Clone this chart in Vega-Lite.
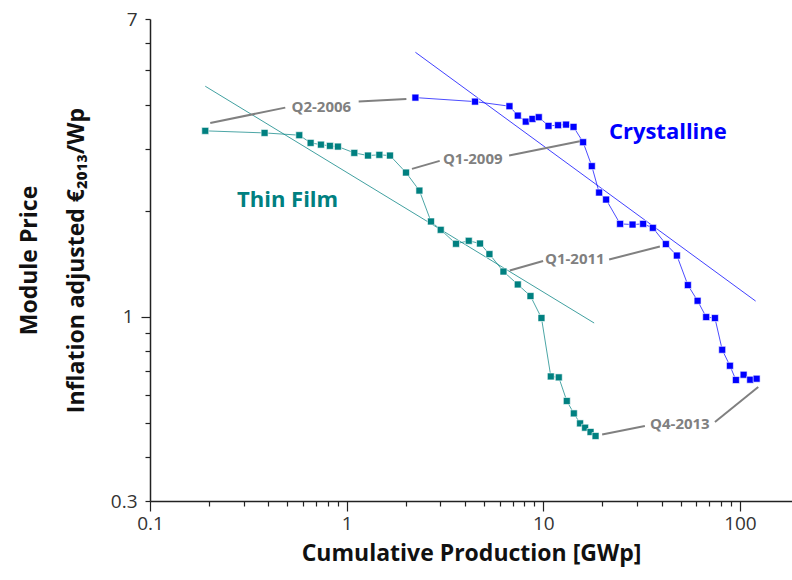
{
  "$schema": "https://vega.github.io/schema/vega-lite/v6.json",
  "width": 642,
  "height": 482,
  "autosize": {"type": "none"},
  "padding": {"left": 150, "top": 19, "right": 0, "bottom": 79},
  "background": "white",
  "config": {
    "font": "Open Sans",
    "view": {"stroke": null},
    "axis": {"grid": false, "domainColor": "#222", "tickColor": "#222", "domainWidth": 1.5, "tickWidth": 1.2}
  },
  "datasets": {
    "points": [
      {"tech": "Thin Film", "x": 0.191, "y": 3.37},
      {"tech": "Thin Film", "x": 0.3825, "y": 3.325},
      {"tech": "Thin Film", "x": 0.5743, "y": 3.276},
      {"tech": "Thin Film", "x": 0.6558, "y": 3.115},
      {"tech": "Thin Film", "x": 0.7401, "y": 3.08},
      {"tech": "Thin Film", "x": 0.8222, "y": 3.055},
      {"tech": "Thin Film", "x": 0.903, "y": 3.041},
      {"tech": "Thin Film", "x": 1.094, "y": 2.918},
      {"tech": "Thin Film", "x": 1.284, "y": 2.868},
      {"tech": "Thin Film", "x": 1.467, "y": 2.881},
      {"tech": "Thin Film", "x": 1.661, "y": 2.868},
      {"tech": "Thin Film", "x": 2.004, "y": 2.566},
      {"tech": "Thin Film", "x": 2.344, "y": 2.281},
      {"tech": "Thin Film", "x": 2.685, "y": 1.864},
      {"tech": "Thin Film", "x": 3.009, "y": 1.765},
      {"tech": "Thin Film", "x": 3.599, "y": 1.611},
      {"tech": "Thin Film", "x": 4.178, "y": 1.643},
      {"tech": "Thin Film", "x": 4.768, "y": 1.614},
      {"tech": "Thin Film", "x": 5.323, "y": 1.506},
      {"tech": "Thin Film", "x": 6.273, "y": 1.344},
      {"tech": "Thin Film", "x": 7.418, "y": 1.235},
      {"tech": "Thin Film", "x": 8.608, "y": 1.145},
      {"tech": "Thin Film", "x": 9.79, "y": 0.992},
      {"tech": "Thin Film", "x": 10.92, "y": 0.677},
      {"tech": "Thin Film", "x": 11.99, "y": 0.673},
      {"tech": "Thin Film", "x": 13.17, "y": 0.5767},
      {"tech": "Thin Film", "x": 14.3, "y": 0.5318},
      {"tech": "Thin Film", "x": 15.39, "y": 0.4982},
      {"tech": "Thin Film", "x": 16.32, "y": 0.4844},
      {"tech": "Thin Film", "x": 17.39, "y": 0.471},
      {"tech": "Thin Film", "x": 18.44, "y": 0.4588},
      {"tech": "Crystalline", "x": 2.237, "y": 4.188},
      {"tech": "Crystalline", "x": 4.498, "y": 4.08},
      {"tech": "Crystalline", "x": 6.73, "y": 3.959},
      {"tech": "Crystalline", "x": 7.418, "y": 3.724},
      {"tech": "Crystalline", "x": 8.146, "y": 3.58},
      {"tech": "Crystalline", "x": 8.81, "y": 3.643},
      {"tech": "Crystalline", "x": 9.486, "y": 3.684},
      {"tech": "Crystalline", "x": 10.63, "y": 3.481},
      {"tech": "Crystalline", "x": 11.89, "y": 3.497},
      {"tech": "Crystalline", "x": 13.06, "y": 3.511},
      {"tech": "Crystalline", "x": 14.25, "y": 3.458},
      {"tech": "Crystalline", "x": 15.94, "y": 3.129},
      {"tech": "Crystalline", "x": 17.65, "y": 2.676},
      {"tech": "Crystalline", "x": 19.23, "y": 2.252},
      {"tech": "Crystalline", "x": 20.87, "y": 2.151},
      {"tech": "Crystalline", "x": 24.59, "y": 1.835},
      {"tech": "Crystalline", "x": 28.44, "y": 1.827},
      {"tech": "Crystalline", "x": 32.2, "y": 1.835},
      {"tech": "Crystalline", "x": 36.08, "y": 1.788},
      {"tech": "Crystalline", "x": 42.02, "y": 1.608},
      {"tech": "Crystalline", "x": 47.79, "y": 1.492},
      {"tech": "Crystalline", "x": 54.37, "y": 1.23},
      {"tech": "Crystalline", "x": 60.91, "y": 1.11},
      {"tech": "Crystalline", "x": 67.38, "y": 0.998},
      {"tech": "Crystalline", "x": 74.63, "y": 0.9915},
      {"tech": "Crystalline", "x": 81.27, "y": 0.806},
      {"tech": "Crystalline", "x": 88.95, "y": 0.726},
      {"tech": "Crystalline", "x": 95.41, "y": 0.6614},
      {"tech": "Crystalline", "x": 104.4, "y": 0.6846},
      {"tech": "Crystalline", "x": 112.8, "y": 0.6627},
      {"tech": "Crystalline", "x": 121.6, "y": 0.6671}
    ],
    "fits": [
      {"tech": "Thin Film", "x": 0.191, "y": 4.511, "x2": 18.14, "y2": 0.96},
      {"tech": "Crystalline", "x": 2.237, "y": 5.632, "x2": 120.2, "y2": 1.108}
    ],
    "leaders": [
      {"x": 0.2025, "y": 3.548, "x2": 0.4875, "y2": 3.923},
      {"x": 1.151, "y": 4.08, "x2": 2.013, "y2": 4.153},
      {"x": 2.149, "y": 2.629, "x2": 2.973, "y2": 2.77},
      {"x": 6.7, "y": 2.868, "x2": 15.34, "y2": 3.15},
      {"x": 6.753, "y": 1.353, "x2": 9.98, "y2": 1.439},
      {"x": 21.62, "y": 1.454, "x2": 39.16, "y2": 1.583},
      {"x": 19.92, "y": 0.4636, "x2": 32.85, "y2": 0.4898},
      {"x": 74.63, "y": 0.5028, "x2": 123.9, "y2": 0.6319}
    ],
    "notes": [
      {"label": "Q2-2006", "x": 0.7434, "y": 3.948},
      {"label": "Q1-2009", "x": 4.378, "y": 2.806},
      {"label": "Q1-2011", "x": 14.47, "y": 1.458},
      {"label": "Q4-2013", "x": 49.5, "y": 0.4973}
    ],
    "serieslabels": [
      {"tech": "Thin Film", "x": 0.5008, "y": 2.147},
      {"tech": "Crystalline", "x": 43.0, "y": 3.354}
    ]
  },
  "layer": [
    {
      "data": {"name": "fits"},
      "mark": {"type": "rule", "strokeWidth": 1, "opacity": 0.75},
      "encoding": {
        "x": {"field": "x", "type": "quantitative", "scale": {"type": "log", "domain": [0.1, 184], "nice": false},
          "title": "Cumulative Production [GWp]",
          "axis": {
            "values": [0.1,0.2,0.3,0.4,0.5,0.6,0.7,0.8,0.9,1,2,3,4,5,6,7,8,9,10,20,30,40,50,60,70,80,90,100],
            "labelExpr": "datum.value == 0.1 ? '0.1' : datum.value == 1 ? '1' : datum.value == 10 ? '10' : datum.value == 100 ? '100' : ''",
            "tickSize": {"condition": {"test": "datum.value == 0.1 || datum.value == 1 || datum.value == 10 || datum.value == 100", "value": 10}, "value": 5},
            "labelFontSize": 19, "labelColor": "#333", "labelPadding": 3, "labelFlush": false, "labelOverlap": false, "labelBound": false,
            "titleFontSize": 23, "titleFontWeight": "bold", "titleColor": "#111", "titlePadding": 9
          }
        },
        "y": {"field": "y", "type": "quantitative", "scale": {"type": "log", "domain": [0.3, 7], "nice": false},
          "title": ["Module Price", "Inflation adjusted  €₂₀₁₃/Wp"],
          "axis": {
            "values": [0.3,0.4,0.5,0.6,0.7,0.8,0.9,1,2,3,4,5,6,7],
            "labelExpr": "datum.value == 0.3 ? '0.3' : datum.value == 1 ? '1' : datum.value == 7 ? '7' : ''",
            "tickSize": {"condition": {"test": "datum.value == 1", "value": 9}, "value": 5},
            "labelFontSize": 19, "labelColor": "#333", "labelPadding": 8, "labelOverlap": false, "labelBound": false, "labelFlush": false,
            "titleFontSize": 23, "titleFontWeight": "bold", "titleColor": "#111", "titlePadding": 22, "titleLineHeight": 47
          }
        },
        "x2": {"field": "x2"},
        "y2": {"field": "y2"},
        "color": {"field": "tech", "type": "nominal", "scale": {"domain": ["Thin Film", "Crystalline"], "range": ["#008080", "#0000ff"]}, "legend": null}
      }
    },
    {
      "data": {"name": "points"},
      "mark": {"type": "line", "strokeWidth": 1, "opacity": 0.7},
      "encoding": {
        "x": {"field": "x", "type": "quantitative"},
        "y": {"field": "y", "type": "quantitative"},
        "color": {"field": "tech", "type": "nominal"},
        "detail": {"field": "tech"}
      }
    },
    {
      "data": {"name": "points"},
      "mark": {"type": "point", "shape": "square", "filled": true, "size": 48, "opacity": 1, "stroke": "white", "strokeWidth": 0.6},
      "encoding": {
        "x": {"field": "x", "type": "quantitative"},
        "y": {"field": "y", "type": "quantitative"},
        "color": {"field": "tech", "type": "nominal"}
      }
    },
    {
      "data": {"name": "leaders"},
      "mark": {"type": "rule", "color": "#808080", "strokeWidth": 2},
      "encoding": {
        "x": {"field": "x", "type": "quantitative"},
        "y": {"field": "y", "type": "quantitative"},
        "x2": {"field": "x2"},
        "y2": {"field": "y2"}
      }
    },
    {
      "data": {"name": "notes"},
      "mark": {"type": "text", "fontSize": 15, "fontWeight": "bold", "color": "#808080", "baseline": "middle", "align": "center"},
      "encoding": {
        "x": {"field": "x", "type": "quantitative"},
        "y": {"field": "y", "type": "quantitative"},
        "text": {"field": "label"}
      }
    },
    {
      "data": {"name": "serieslabels"},
      "mark": {"type": "text", "fontSize": 22, "fontWeight": "bold", "baseline": "middle", "align": "center"},
      "encoding": {
        "x": {"field": "x", "type": "quantitative"},
        "y": {"field": "y", "type": "quantitative"},
        "text": {"field": "tech"},
        "color": {"field": "tech", "type": "nominal"}
      }
    }
  ]
}
